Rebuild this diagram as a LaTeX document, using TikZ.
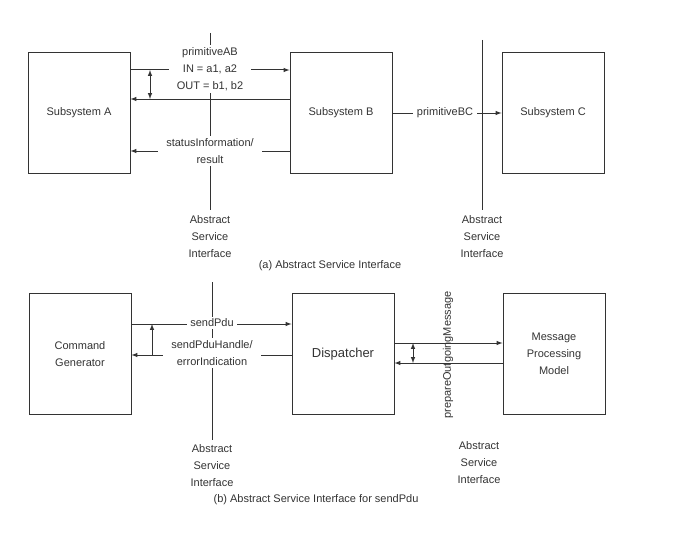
\documentclass[tikz,border=0pt]{standalone}
\usepackage{fontspec}
\setmainfont{Liberation Sans}
\tikzset{
  subsys/.style={draw, minimum width=102pt, minimum height=121pt, inner sep=2pt, align=center},
  lbl/.style={fill=white, align=center, inner xsep=8pt, inner ysep=2pt},
  txt/.style={align=center, inner sep=1pt},
}
\begin{document}
\begin{tikzpicture}[>=latex, x=1pt, y=-1pt, line width=1pt, color=black!80,
  every node/.style={font=\fontsize{11}{17}\selectfont}]
\useasboundingbox (0,0) rectangle (696,535);

% (a) subsystems
\node[subsys] (A) at (79,113) {Subsystem A};
\node[subsys] (B) at (341,113) {Subsystem B};
\node[subsys] (C) at (553,113) {Subsystem C};

\coordinate (ifAtop) at (210,33);
\coordinate (ifAbot) at (210,210);
\coordinate (ifBtop) at (482,40);
\coordinate (ifBbot) at (482,210);
\draw (ifAtop) -- (ifAbot);
\draw (ifBtop) -- (ifBbot);

\draw [->](A.east |- 0,70) -- (B.west |- 0,70);
\draw [->](B.west |- 0,99) -- (A.east |- 0,99);
\draw [->](B.west |- 0,151) -- (A.east |- 0,151);
\coordinate (abUp) at (150,70);
\coordinate (abDn) at (150,99);
\draw [<->](abUp) -- (abDn);
\draw [->](B.east) -- (C.west);

\node[lbl] (primAB) at (210,69) {primitiveAB\\IN = a1, a2\\OUT = b1, b2};
\node[lbl] (status) at (210,151) {statusInformation/\\result};
\node[lbl, inner xsep=4pt] (primBC) at (445,113) {primitiveBC};
\node[txt] (asiA) at (210,237) {Abstract\\Service\\Interface};
\node[txt] (asiB) at (482,237) {Abstract\\Service\\Interface};
\node (capA) at (330,266) {(a) Abstract Service Interface};

% (b) sendPdu
\node[subsys] (CG) at (80,354) {Command\\Generator};
\node[subsys, font=\fontsize{13}{16}\selectfont] (D) at (343,354) {Dispatcher};
\node[subsys] (MPM) at (554,354) {Message\\Processing\\Model};

\coordinate (ifCtop) at (212,282);
\coordinate (ifCbot) at (212,440);
\draw (ifCtop) -- (ifCbot);

\draw [->](CG.east |- 0,324) -- (D.west |- 0,324);
\draw [->](D.west |- 0,355) -- (CG.east |- 0,355);
\coordinate (cgDn) at (152,355);
\coordinate (cgUp) at (152,324);
\draw [->](cgDn) -- (cgUp);

\draw [->](D.east |- 0,343) -- (MPM.west |- 0,343);
\draw [->](MPM.west |- 0,363) -- (D.east |- 0,363);
\coordinate (dUp) at (413,343);
\coordinate (dDn) at (413,363);
\draw [<->](dUp) -- (dDn);

\node[lbl, inner xsep=3pt] (send) at (212,323) {sendPdu};
\node[lbl] (handle) at (212,353) {sendPduHandle/\\errorIndication};
\node[rotate=90, inner sep=1pt] (prep) at (448,355) {prepareOutgoingMessage};
\node[txt] (asiC) at (212,466) {Abstract\\Service\\Interface};
\node[txt] (asiD) at (479,463) {Abstract\\Service\\Interface};
\node (capB) at (316,500) {(b) Abstract Service Interface for sendPdu};
\end{tikzpicture}
\end{document}
